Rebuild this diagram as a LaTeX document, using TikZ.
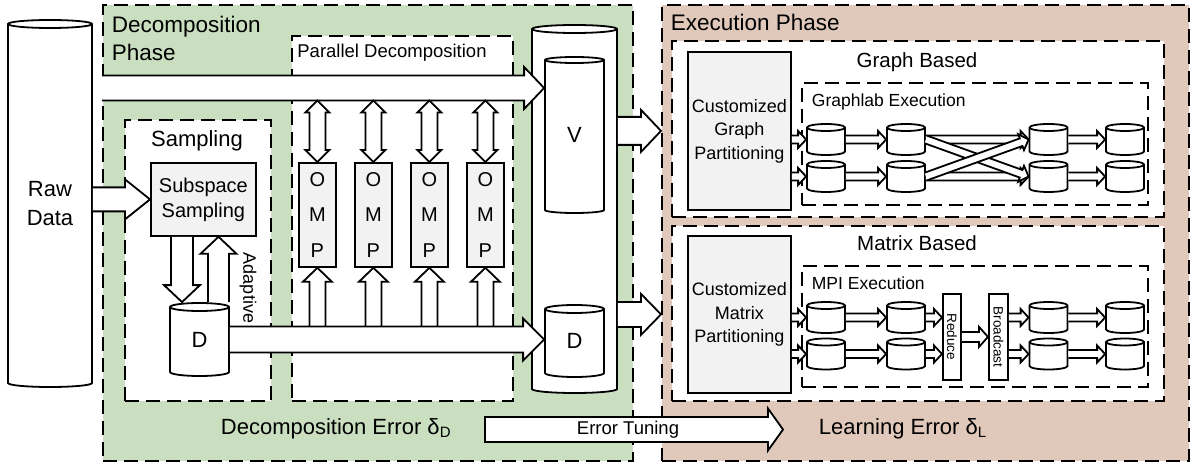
\documentclass[tikz,border=0pt]{standalone}
\usepackage{fontspec}
\setmainfont{Liberation Sans}
\usetikzlibrary{calc}

\definecolor{decgreen}{HTML}{C9DFC0}
\definecolor{exebrown}{HTML}{E0C8BB}
\definecolor{boxgray}{HTML}{F2F2F2}

\newcommand\fs[2]{\fontsize{#1}{#2}\selectfont}

% vertical storage cylinder: [node opts]{name}{cx}{cy}{width}{height}{rim radius}{text}
\newcommand\cyl[8][]{%
  \draw[fill=white] ({#3-#5/2},{#4-#6/2+#7}) -- ({#3-#5/2},{#4+#6/2-#7})
    arc[start angle=180,end angle=0,x radius={#5/2},y radius={#7}]
    -- ({#3+#5/2},{#4-#6/2+#7})
    arc[start angle=0,end angle=-180,x radius={#5/2},y radius={#7}] -- cycle;
  \draw ({#3-#5/2},{#4-#6/2+#7}) arc[start angle=180,end angle=0,x radius={#5/2},y radius={#7}];
  \node[inner sep=0pt,minimum width=#5,minimum height=#6,align=center,#1] (#2) at (#3,#4) {#8};
}

% hollow block arrow, open tail: [opts]{from}{to}{shaft half width}{head half width}{head length}
\newcommand\barrow[6][]{%
  \fill[white] let \p1=(#2),\p2=(#3),\p3=($(\p2)!#6pt!(\p1)$),
    \p4=($(\p1)!#4pt!90:(\p2)$),\p5=($(\p1)!#4pt!-90:(\p2)$),
    \p6=($(\p3)!#4pt!90:(\p2)$),\p7=($(\p3)!#4pt!-90:(\p2)$),
    \p8=($(\p3)!#5pt!90:(\p2)$),\p9=($(\p3)!#5pt!-90:(\p2)$) in
    (\p4)--(\p6)--(\p8)--(\p2)--(\p9)--(\p7)--(\p5)--cycle;
  \draw[arrline,#1] let \p1=(#2),\p2=(#3),\p3=($(\p2)!#6pt!(\p1)$),
    \p4=($(\p1)!#4pt!90:(\p2)$),\p5=($(\p1)!#4pt!-90:(\p2)$),
    \p6=($(\p3)!#4pt!90:(\p2)$),\p7=($(\p3)!#4pt!-90:(\p2)$),
    \p8=($(\p3)!#5pt!90:(\p2)$),\p9=($(\p3)!#5pt!-90:(\p2)$) in
    (\p4)--(\p6)--(\p8)--(\p2)--(\p9)--(\p7)--(\p5);
}

% hollow block arrow with closed tail
\newcommand\barrowc[6][]{%
  \filldraw[fill=white,arrline,#1] let \p1=(#2),\p2=(#3),\p3=($(\p2)!#6pt!(\p1)$),
    \p4=($(\p1)!#4pt!90:(\p2)$),\p5=($(\p1)!#4pt!-90:(\p2)$),
    \p6=($(\p3)!#4pt!90:(\p2)$),\p7=($(\p3)!#4pt!-90:(\p2)$),
    \p8=($(\p3)!#5pt!90:(\p2)$),\p9=($(\p3)!#5pt!-90:(\p2)$) in
    (\p4)--(\p6)--(\p8)--(\p2)--(\p9)--(\p7)--(\p5)--cycle;
}

% hollow double-headed block arrow
\newcommand\dbarrow[6][]{%
  \filldraw[fill=white,arrline,#1] let \p1=(#2),\p2=(#3),
    \p3=($(\p2)!#6pt!(\p1)$),\p4=($(\p1)!#6pt!(\p2)$) in
    (\p1) -- ($(\p4)!#5pt!90:(\p2)$) -- ($(\p4)!#4pt!90:(\p2)$)
    -- ($(\p3)!#4pt!90:(\p2)$) -- ($(\p3)!#5pt!90:(\p2)$) -- (\p2)
    -- ($(\p3)!#5pt!-90:(\p2)$) -- ($(\p3)!#4pt!-90:(\p2)$)
    -- ($(\p4)!#4pt!-90:(\p2)$) -- ($(\p4)!#5pt!-90:(\p2)$) -- cycle;
}

\tikzset{
  arrline/.style={line join=miter},
  dashbox/.style={draw,dash pattern=on 14pt off 7pt,inner sep=0pt,anchor=north west},
  graybox/.style={draw,fill=boxgray,inner sep=0pt,anchor=north west,align=center},
  whitebox/.style={draw,fill=white,inner sep=0pt,anchor=north west},
  txt/.style={inner sep=0pt},
}

\begin{document}
\begin{tikzpicture}[x=1pt,y=-1pt,line width=1.8pt]
\useasboundingbox (0,0) rectangle (1190,462);

% raw data store
\cyl[font=\fs{22}{29}]{raw}{50}{203.5}{84}{367}{4}{Raw\\Data}

% the two phases
\node[dashbox,fill=decgreen,minimum width=530,minimum height=456] (decphase) at (102,4) {};
\node[dashbox,fill=exebrown,minimum width=527,minimum height=456] (execphase) at (661,4) {};
\node[txt,anchor=west,align=left,font=\fs{22.5}{28}] (dectitle) at (111,38) {Decomposition\\Phase};
\node[txt,anchor=base west,font=\fs{22.5}{27}] (exectitle) at (670,31) {Execution Phase};

% inner groups
\node[dashbox,fill=white,minimum width=146,minimum height=281] (sampbox) at (124,119) {};
\node[dashbox,fill=white,minimum width=221,minimum height=365] (parbox) at (291,35) {};
\node[dashbox,fill=white,minimum width=492,minimum height=176] (graphbox) at (671,40) {};
\node[dashbox,fill=white,minimum width=492,minimum height=175] (matbox) at (671,225) {};
\node[dashbox,minimum width=346,minimum height=122] (glbox) at (801,82) {};
\node[dashbox,minimum width=346,minimum height=121] (mpibox) at (801,265) {};

\node[txt,anchor=base,font=\fs{22}{26}] (samptitle) at (197,147) {Sampling};
\node[txt,font=\fs{18.5}{22}] (partitle) at (392,53) {Parallel Decomposition};
\node[txt,anchor=base,font=\fs{20.5}{24}] (graphtitle) at (917,68) {Graph Based};
\node[txt,anchor=base,font=\fs{20.5}{24}] (mattitle) at (917,251) {Matrix Based};
\node[txt,anchor=base west,font=\fs{17.5}{20}] (gltitle) at (811,107) {Graphlab Execution};
\node[txt,anchor=base west,font=\fs{17.5}{20}] (mpititle) at (811,289) {MPI Execution};

% decomposed factors
\cyl{bigcyl}{574.5}{209}{85}{368}{4}{}
\cyl[font=\fs{22}{26}]{vcyl}{574.5}{135}{59}{156}{3}{V}
\cyl[font=\fs{22}{26}]{bigd}{574.5}{341}{59}{72}{4}{D}

% parallel workers
\foreach \i/\x in {1/298,2/354,3/410,4/466}
  \node[graybox,minimum width=37,minimum height=104,font=\fs{20}{35.5}] (omp\i) at (\x,162) {O\\M\\P};

\coordinate (dshaft) at (0,326.5);
\coordinate (tshaft) at (0,100.5);
\coordinate (topin) at (102,88);

\foreach \i in {1,...,4}
  \barrow{omp\i.south |- dshaft}{omp\i.south}{8}{14.5}{14};

% sampling stage
\node[graybox,minimum width=105,minimum height=73,font=\fs{20}{25}] (subsp) at (150,162) {Subspace\\Sampling};
\cyl[font=\fs{22}{26}]{dcyl}{199.5}{339.5}{59}{73}{4}{D}
\coordinate (dnx) at ($(dcyl.north)+(-17.5,0)$);
\coordinate (upx) at ($(dcyl.north)+(19,0)$);

\barrow{dcyl.east}{dcyl.east -| bigd.west}{13}{21}{21}
\barrow{topin}{topin -| vcyl.west}{12.5}{21}{20}
\foreach \i in {1,...,4}
  \dbarrow{omp\i.north |- tshaft}{omp\i.north}{8}{12}{12};

\barrow{subsp.west -| raw.east}{subsp.west}{12}{20}{25}
\barrow{dnx |- subsp.south}{dnx}{11}{18}{17}
\barrow{upx}{upx |- subsp.south}{10.5}{18}{17}
\node[txt,rotate=-90,font=\fs{18}{20}] (adaptive) at (248,288) {Adaptive};

% hand-over to execution
\node[graybox,minimum width=103,minimum height=158,font=\fs{18}{23.5}] (cgp) at (687,51) {Customized\\Graph\\Partitioning};
\node[graybox,minimum width=103,minimum height=157,font=\fs{18}{23.5}] (cmp) at (687,235) {Customized\\Matrix\\Partitioning};
\barrow{bigcyl.east |- cgp.west}{execphase.west |- cgp.west}{14}{21}{20}
\barrow{bigcyl.east |- cmp.west}{execphase.west |- cmp.west}{12.5}{20.5}{20}

% graph-based execution
\foreach \c/\x in {1/826,2/906,3/1048.5,4/1125}{
  \cyl{g1\c}{\x}{139.5}{38}{31}{3.5}{}
  \cyl{g2\c}{\x}{176.5}{38}{31}{3.5}{}
  \cyl{m1\c}{\x}{317.5}{38}{31}{3.5}{}
  \cyl{m2\c}{\x}{354}{38}{31}{3.5}{}
}
\foreach \r in {1,2}{
  \barrow{g\r1.west -| cgp.east}{g\r1.west}{4}{8.5}{8}
  \barrow{g\r1.east}{g\r2.west}{4}{8.5}{8}
  \barrow{g\r3.east}{g\r4.west}{4}{8.5}{8}
}
\barrow{g12.east}{g13.west}{4}{8.5}{8}
\barrow{g22.east}{g23.west}{4}{8.5}{8}
\barrow{g12.east}{g23.west}{4}{8.5}{8}
\barrow{g22.east}{g13.west}{4}{8.5}{8}

% matrix-based execution
\node[whitebox,minimum width=18,minimum height=86] (reduce) at (942,293) {};
\node[whitebox,minimum width=19,minimum height=86] (bcast) at (988,293) {};
\node[txt,rotate=-90,font=\fs{13.5}{15}] (reducetxt) at (reduce) {Reduce};
\node[txt,rotate=-90,font=\fs{13.5}{15}] (bcasttxt) at (bcast) {Broadcast};
\foreach \r in {1,2}{
  \barrow{m\r1.west -| cmp.east}{m\r1.west}{4}{8.5}{8}
  \barrow{m\r1.east}{m\r2.west}{4}{8.5}{8}
  \barrow{m\r2.east}{m\r2.east -| reduce.west}{4}{8.5}{8}
  \barrow{m\r3.west -| bcast.east}{m\r3.west}{4}{8.5}{8}
  \barrow{m\r3.east}{m\r4.west}{4}{8.5}{8}
}
\barrow{reduce.east}{bcast.west}{5}{10}{9}

% error feedback
\node[txt,anchor=base west,font=\fs{22}{26}] (decerr) at (220,434) {Decomposition Error δ\raisebox{-3pt}{\fs{15}{15}D}};
\node[txt,anchor=base west,font=\fs{22}{26}] (learnerr) at (818,434) {Learning Error δ\raisebox{-3pt}{\fs{15}{15}L}};
\coordinate (tuneA) at (485,429.5);
\coordinate (tuneB) at (783,429.5);
\barrowc{tuneA}{tuneB}{12.5}{21}{15}
\node[txt,font=\fs{18.5}{22}] (tunetxt) at (628,429.5) {Error Tuning};
\end{tikzpicture}
\end{document}
